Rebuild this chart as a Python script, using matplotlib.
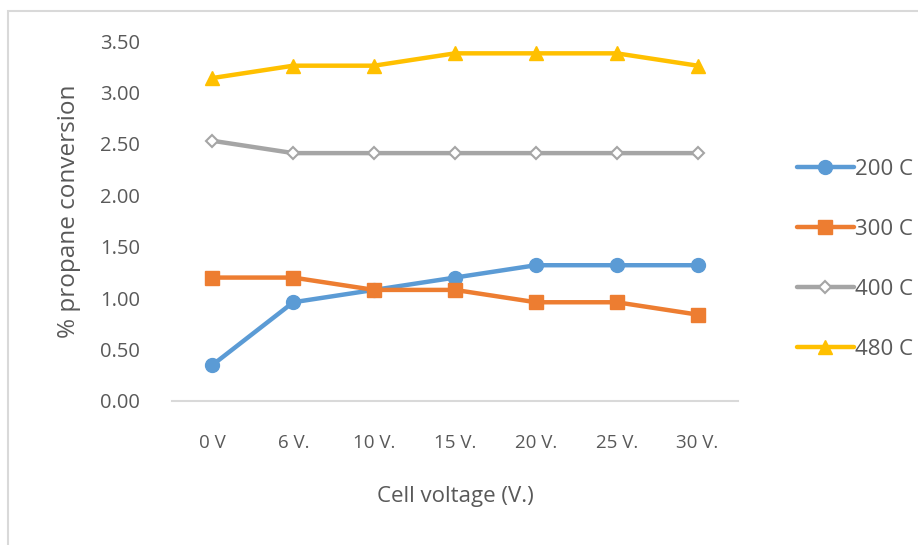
import matplotlib
matplotlib.use("Agg")
import matplotlib.pyplot as plt
from matplotlib.patches import Rectangle

categories = ["0 V", "6 V.", "10 V.", "15 V.", "20 V.", "25 V.", "30 V."]
series_names = ["200 C", "300 C", "400 C", "480 C"]
conv_200 = [0.35, 0.96, 1.08, 1.20, 1.32, 1.32, 1.32]
conv_300 = [1.20, 1.20, 1.08, 1.08, 0.96, 0.96, 0.84]
conv_400 = [2.53, 2.41, 2.41, 2.41, 2.41, 2.41, 2.41]
conv_480 = [3.14, 3.26, 3.26, 3.38, 3.38, 3.38, 3.26]
y_ticks = [0.0, 0.5, 1.0, 1.5, 2.0, 2.5, 3.0, 3.5]

plt.rcParams["font.family"] = ["Open Sans", "DejaVu Sans"]
text_color = "#595959"

W, H = 918, 545
fig = plt.figure(figsize=(W / 100, H / 100), dpi=100)

# chart-area frame (extends past the right/bottom edges)
fig.patches.append(Rectangle((8 / W, -0.1), 1.2, 1 - 11 / H + 0.1,
                             transform=fig.transFigure, fill=False,
                             edgecolor="#D9D9D9", linewidth=1.5, zorder=0))

ax = fig.add_axes([172 / W, 1 - 401 / H, 566 / W, 360 / H])
x = list(range(len(categories)))

styles = [
    (conv_200, "#5B9BD5", dict(marker="o", markersize=10)),
    (conv_300, "#ED7D31", dict(marker="s", markersize=10)),
    (conv_400, "#A5A5A5", dict(marker="D", markersize=6.5, markerfacecolor="white",
                               markeredgewidth=1.5)),
    (conv_480, "#FFC000", dict(marker="^", markersize=10)),
]
for (vals, col, kw), name in zip(styles, series_names):
    ax.plot(x, vals, color=col, linewidth=3.2, label=name,
            solid_capstyle="round", clip_on=False, **kw)

ax.set_xlim(-0.5, len(categories) - 0.5)
ax.set_ylim(0, 3.5)
ax.set_yticks(y_ticks)
ax.set_yticklabels([f"{v:.2f}" for v in y_ticks])
ax.set_xticks(x)
ax.set_xticklabels(categories)
ax.tick_params(axis="both", length=0, colors=text_color)
ax.tick_params(axis="y", pad=23, labelsize=14.5)
ax.tick_params(axis="x", pad=24, labelsize=13.5)
for s in ["top", "right", "left"]:
    ax.spines[s].set_visible(False)
ax.spines["bottom"].set_color("#D9D9D9")
ax.spines["bottom"].set_linewidth(1.5)

ax.set_xlabel("Cell voltage (V.)", fontsize=16, color=text_color, labelpad=24)
ax.set_ylabel("% propane conversion", fontsize=17.5, color=text_color, labelpad=14)
ax.yaxis.label.set_y(0.528)

leg = ax.legend(loc="upper left", bbox_to_anchor=(788 / W, 1 - 150 / H),
                bbox_transform=fig.transFigure, frameon=False, fontsize=16,
                labelspacing=1.75, handlelength=2.55, handletextpad=0.05,
                borderaxespad=0)
for t in leg.get_texts():
    t.set_color(text_color)

fig.savefig("out.png", dpi=100)
